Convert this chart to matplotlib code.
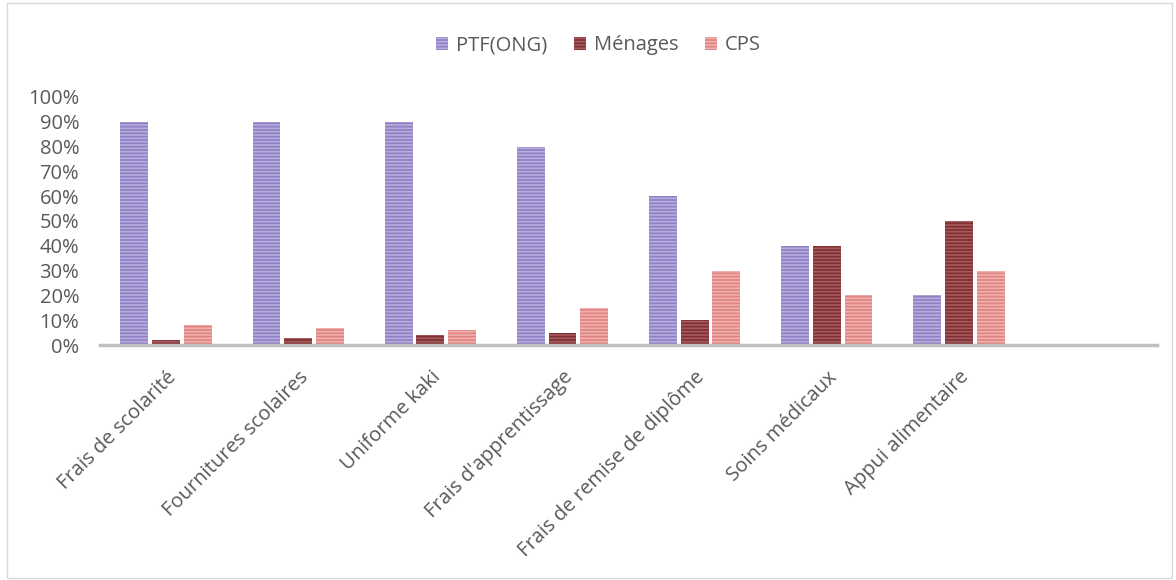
import matplotlib.pyplot as plt
import numpy as np
from matplotlib.patches import Rectangle

plt.rcParams['font.family'] = ['Open Sans', 'DejaVu Sans']
plt.rcParams['hatch.linewidth'] = 1.2

categories = ['Frais de scolarité', 'Fournitures scolaires', 'Uniforme kaki',
              "Frais d'apprentissage", 'Frais de remise de diplôme',
              'Soins médicaux', 'Appui alimentaire', '']
ptf = [90, 90, 90, 80, 60, 40, 20, 0]
menages = [2, 3, 4, 5, 10, 40, 50, 0]
cps = [8, 7, 6, 15, 30, 20, 30, 0]

series = [('PTF(ONG)', ptf, '#8f7fc4', '#b8acdc'),
          ('Ménages', menages, '#7e2f33', '#a75a5e'),
          ('CPS', cps, '#df8482', '#f0b0ae')]

fig = plt.figure(figsize=(11.76, 5.8), dpi=100)
ax = fig.add_axes([0.085, 0.405, 0.899, 0.428])

x = np.arange(len(categories))
w = 0.21
step = 0.24
for i, (name, vals, col, hcol) in enumerate(series):
    ax.bar(x + (i - 1) * step, np.array(vals) / 100, width=w, color=col,
           edgecolor=hcol, linewidth=0, hatch='-----', label=name)

ax.set_xlim(-0.5, len(categories) - 0.5)
ax.set_ylim(0, 1.0)
ax.set_yticks(np.arange(0, 1.01, 0.1))
ax.set_yticklabels([f'{int(round(v * 100))}%' for v in np.arange(0, 1.01, 0.1)])
ax.set_xticks(x)
ax.set_xticklabels(categories, rotation=45, ha='right', rotation_mode='anchor')
ax.tick_params(axis='both', length=0, labelsize=14.5, colors='#595959')
ax.tick_params(axis='y', pad=15)
ax.tick_params(axis='x', pad=16)
for s in ['top', 'right', 'left']:
    ax.spines[s].set_visible(False)
ax.spines['bottom'].set_color('#bfbfbf')
ax.spines['bottom'].set_linewidth(2.5)

leg = fig.legend(loc='center', bbox_to_anchor=(0.509, 0.922), ncol=3, frameon=False,
                 fontsize=14.5, handlelength=0.6, handleheight=0.6, columnspacing=1.3,
                 handletextpad=0.4)
for t in leg.get_texts():
    t.set_color('#595959')

fig.patches.append(Rectangle((0.006, 0.004), 0.991, 0.99, transform=fig.transFigure,
                             fill=False, edgecolor='#d9d9d9', linewidth=1))

fig.savefig('out.png', dpi=100)
